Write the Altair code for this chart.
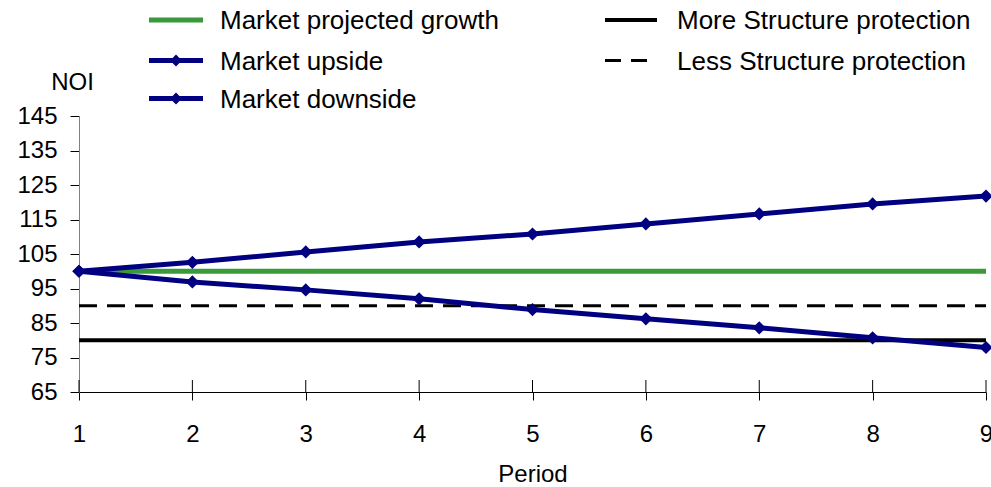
import altair as alt
import pandas as pd

# ---- data -------------------------------------------------------------
periods = [1, 2, 3, 4, 5, 6, 7, 8, 9]
projected_growth = [100, 100, 100, 100, 100, 100, 100, 100, 100]
market_upside = [100, 102.6, 105.6, 108.5, 110.8, 113.7, 116.6, 119.5, 121.8]
market_downside = [100, 96.9, 94.6, 92.0, 88.9, 86.2, 83.6, 80.7, 77.9]
more_protection = [80, 80, 80, 80, 80, 80, 80, 80, 80]
less_protection = [90, 90, 90, 90, 90, 90, 90, 90, 90]
y_ticks = [65, 75, 85, 95, 105, 115, 125, 135, 145]

names = [
    "Market projected growth",
    "Market upside",
    "Market downside",
    "More Structure protection",
    "Less Structure protection",
]
series_values = [projected_growth, market_upside, market_downside,
                 more_protection, less_protection]

df = pd.concat(
    [pd.DataFrame({"period": periods, "value": vals, "series": name})
     for name, vals in zip(names, series_values)],
    ignore_index=True,
)

# ---- styling ----------------------------------------------------------
FONT = "Liberation Sans"
GREEN = "#3a9a3a"
NAVY = "#000080"
BLACK = "#000000"
W, H = 907, 276

x_enc = alt.X(
    "period:Q",
    scale=alt.Scale(domain=[1, 9], nice=False, zero=False),
    axis=alt.Axis(
        values=periods, format="d", grid=False,
        labelFont=FONT, labelFontSize=24, labelColor=BLACK,
        labelFlush=False, labelBaseline="alphabetic", labelPadding=41,
        tickColor=BLACK, tickSize=8, domainColor=BLACK,
        title="Period", titleFont=FONT, titleFontSize=24,
        titleFontWeight="normal", titleColor=BLACK,
        titleBaseline="alphabetic", titleY=89,
    ),
)
y_enc = alt.Y(
    "value:Q",
    scale=alt.Scale(domain=[65, 145], nice=False, zero=False),
    axis=alt.Axis(
        values=y_ticks, grid=False,
        labelFont=FONT, labelFontSize=24, labelColor=BLACK,
        labelFlush=False, labelPadding=13,
        tickColor=BLACK, tickSize=9, domainColor="#808080",
        title="NOI", titleFont=FONT, titleFontSize=24,
        titleFontWeight="normal", titleColor=BLACK, titleAngle=0,
        titleAlign="center", titleBaseline="alphabetic",
        titleX=-7, titleY=-27,
    ),
)

base = alt.Chart(df)


def series_line(name, color, width, dash=None):
    kw = dict(color=color, strokeWidth=width, clip=False)
    if dash:
        kw["strokeDash"] = dash
    return (base.transform_filter(alt.datum.series == name)
            .mark_line(**kw).encode(x=x_enc, y=y_enc))


def series_points(name):
    return (base.transform_filter(alt.datum.series == name)
            .mark_point(shape="diamond", filled=True, size=175,
                        color=NAVY, opacity=1)
            .encode(x=x_enc, y=y_enc))


# inward half of the x-axis tick marks
inner_ticks = (
    alt.Chart(pd.DataFrame({"period": periods}))
    .mark_rule(color=BLACK, strokeWidth=1)
    .encode(x=x_enc, y=alt.value(H - 12), y2=alt.value(H))
)

# ---- legend (drawn above the plot area) --------------------------------
legend_layout = {
    "Market projected growth": (0, 0, GREEN, 5, None, False),
    "Market upside": (0, 1, NAVY, 5, None, True),
    "Market downside": (0, 2, NAVY, 5, None, True),
    "More Structure protection": (1, 0, BLACK, 4, None, False),
    "Less Structure protection": (1, 1, BLACK, 3, [16, 10], False),
}
col_x = [(70, 124, 141), (526, 578, 598)]
row_y = [-96, -55.5, -17.5]

legend_layers = []
for name in names:
    col, row, color, width, dash, marker = legend_layout[name]
    x0, x1, tx = col_x[col]
    yy = row_y[row]
    item = alt.Chart(pd.DataFrame({"label": [name]}))
    rule_kw = dict(color=color, strokeWidth=width)
    if dash:
        rule_kw["strokeDash"] = dash
    legend_layers.append(
        item.mark_rule(**rule_kw).encode(
            x=alt.value(x0), x2=alt.value(x1), y=alt.value(yy)))
    if marker:
        legend_layers.append(
            item.mark_point(shape="diamond", filled=True, size=140,
                            color=NAVY, opacity=1)
            .encode(x=alt.value((x0 + x1) / 2), y=alt.value(yy)))
    legend_layers.append(
        item.mark_text(align="left", baseline="alphabetic", font=FONT,
                       fontSize=26, color=BLACK)
        .encode(x=alt.value(tx), y=alt.value(yy + 9), text="label:N"))

chart = alt.layer(
    inner_ticks,
    series_line("More Structure protection", BLACK, 4),
    series_line("Less Structure protection", BLACK, 3, [18, 10]),
    series_line("Market projected growth", GREEN, 5),
    series_line("Market upside", NAVY, 5),
    series_line("Market downside", NAVY, 5),
    series_points("Market upside"),
    series_points("Market downside"),
    *legend_layers,
).properties(
    width=W,
    height=H,
    autosize=alt.AutoSizeParams(type="none"),
    padding={"left": 79, "top": 116, "right": 5, "bottom": 95},
    background="white",
).configure_view(stroke=None)

chart.save("out.html", embed_options={"renderer": "svg", "actions": False})
